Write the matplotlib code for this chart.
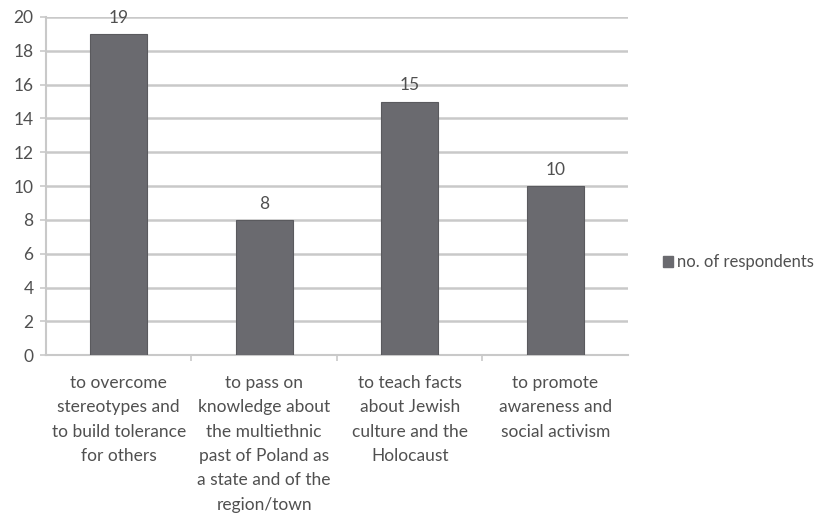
import matplotlib.pyplot as plt
from matplotlib.patches import Patch

# data
categories = [
    "to overcome\nstereotypes and\nto build tolerance\nfor others",
    "to pass on\nknowledge about\nthe multiethnic\npast of Poland as\na state and of the\nregion/town",
    "to teach facts\nabout Jewish\nculture and the\nHolocaust",
    "to promote\nawareness and\nsocial activism",
]
respondents = [19, 8, 15, 10]
series_name = "no. of respondents"
y_ticks = [0, 2, 4, 6, 8, 10, 12, 14, 16, 18, 20]

plt.rcParams['font.family'] = ['Lato', 'DejaVu Sans']
text_col = '#505050'
bar_col = '#6a6a6f'
grid_col = '#c9c9c9'

fig = plt.figure(figsize=(8.27, 5.14), dpi=100)
ax = fig.add_axes([0.0556, 0.309, 0.7037, 0.658])

x = list(range(len(categories)))
bars = ax.bar(x, respondents, width=0.39, color=bar_col, edgecolor='#5a5a5e', linewidth=0.8, zorder=3)
for b, v in zip(bars, respondents):
    ax.annotate(str(v), (b.get_x() + b.get_width() / 2, v), xytext=(0, 6),
                textcoords='offset points', ha='center', va='bottom',
                fontsize=12.5, color=text_col)

ax.set_xlim(-0.5, len(categories) - 0.5)
ax.set_ylim(0, 20)
ax.set_yticks(y_ticks)
ax.yaxis.grid(True, color=grid_col, linewidth=1.8, zorder=0)
ax.set_axisbelow(True)

ax.set_xticks([i + 0.5 for i in x[:-1]], minor=False)
ax.set_xticklabels([])
ax.tick_params(axis='x', length=4, color=grid_col, width=1.2)
ax.set_xticks(x, minor=True)
ax.set_xticklabels(categories, minor=True, fontsize=12.5, color=text_col, linespacing=1.65, va='top')
ax.tick_params(axis='x', which='minor', length=0, pad=14)
ax.tick_params(axis='y', length=4, color=grid_col, width=1.2, labelsize=12.5, labelcolor=text_col, pad=5)

for s in ['top', 'right']:
    ax.spines[s].set_visible(False)
for s in ['left', 'bottom']:
    ax.spines[s].set_color(grid_col)
    ax.spines[s].set_linewidth(1.5)

handle = Patch(facecolor=bar_col, edgecolor=bar_col, label=series_name)
fig.legend(handles=[handle], loc='center left', bbox_to_anchor=(0.783, 0.49),
           frameon=False, fontsize=12, labelcolor=text_col,
           handlelength=0.6, handleheight=0.6, handletextpad=0.25)

fig.savefig('out.png', dpi=100, facecolor='white')
